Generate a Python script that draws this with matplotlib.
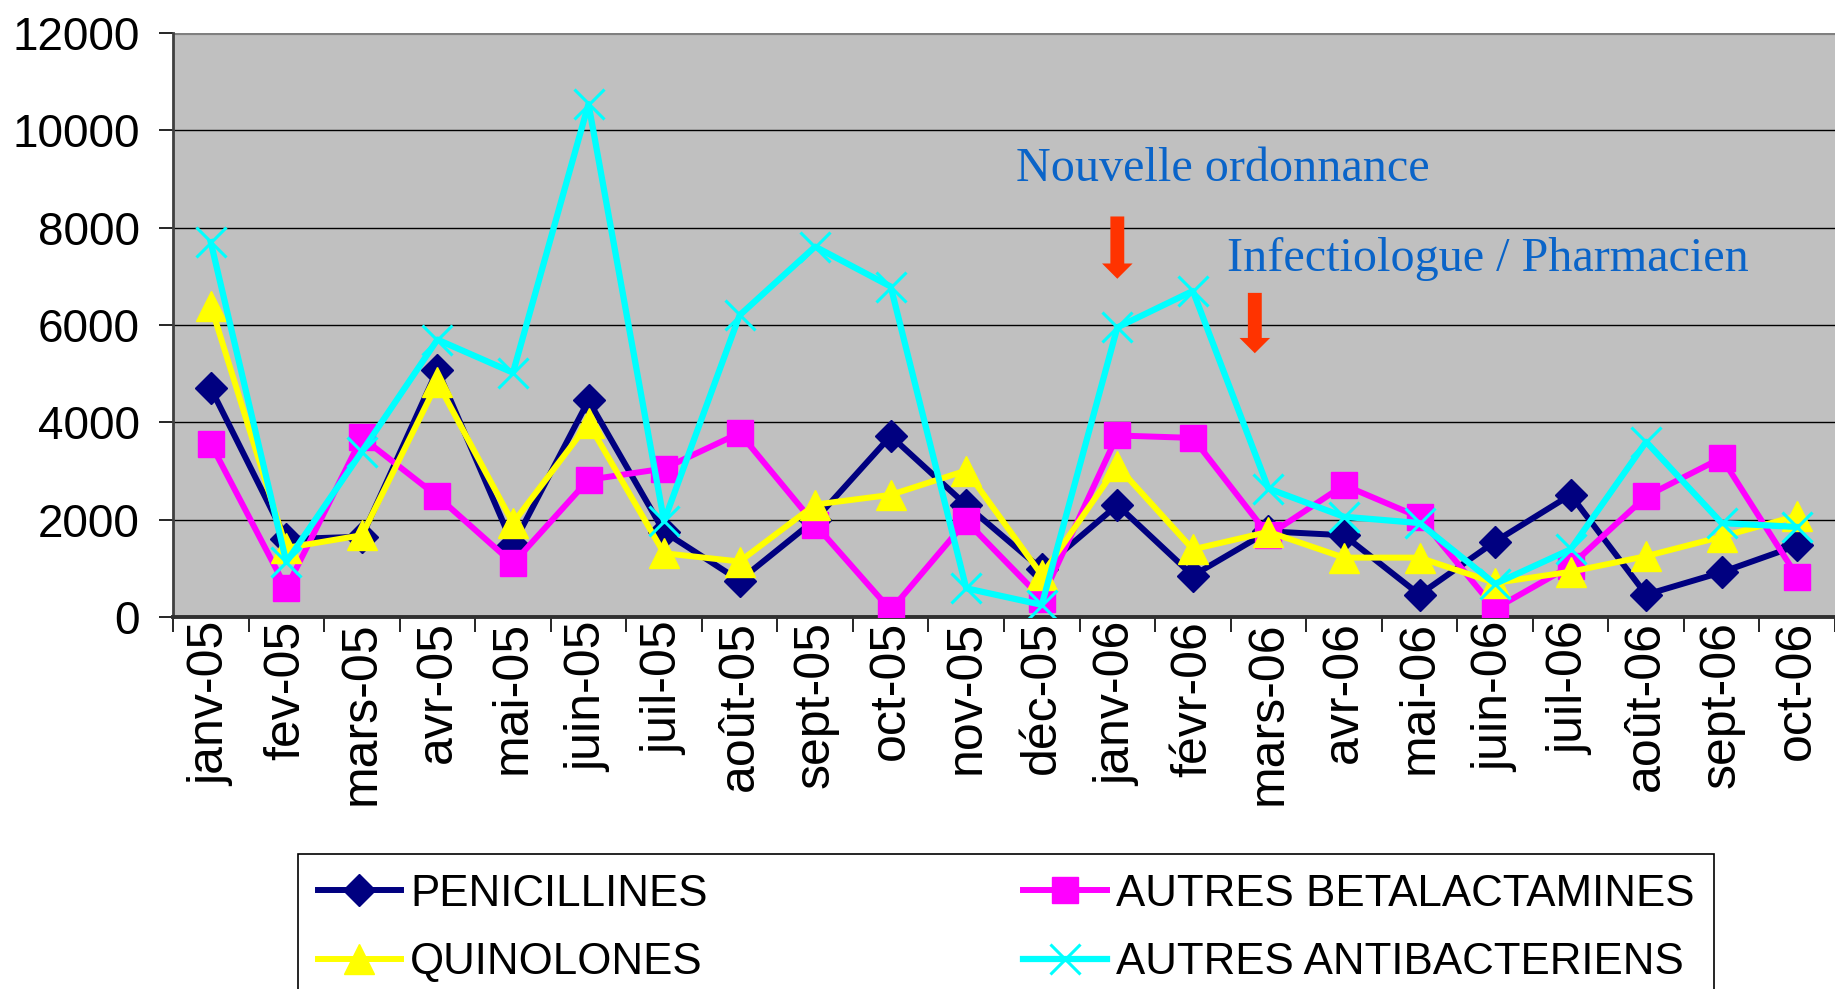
import matplotlib
matplotlib.use("Agg")
import matplotlib.pyplot as plt
import numpy as np

months = ["janv-05", "fev-05", "mars-05", "avr-05", "mai-05", "juin-05", "juil-05",
          "août-05", "sept-05", "oct-05", "nov-05", "déc-05", "janv-06", "févr-06",
          "mars-06", "avr-06", "mai-06", "juin-06", "juil-06", "août-06", "sept-06", "oct-06"]

penicillines = [4700, 1600, 1650, 5080, 1480, 4450, 1750, 750, 2000, 3720, 2300, 980,
                2300, 850, 1760, 1680, 460, 1550, 2510, 460, 920, 1470]
autres_betalactamines = [3560, 590, 3690, 2480, 1100, 2820, 3050, 3780, 1900, 140, 1970, 380,
                         3730, 3680, 1680, 2710, 2050, 170, 1050, 2480, 3270, 830]
quinolones = [6400, 1420, 1680, 4820, 1930, 3980, 1310, 1140, 2310, 2510, 3010, 860,
              3100, 1390, 1750, 1220, 1220, 700, 930, 1250, 1650, 2080]
autres_antibacteriens = [7700, 1130, 3400, 5700, 5020, 10540, 1970, 6200, 7610, 6790, 590, 250,
                         5950, 6700, 2640, 2060, 1930, 680, 1390, 3600, 1930, 1850]

yticks = [0, 2000, 4000, 6000, 8000, 10000, 12000]

fig = plt.figure(figsize=(18.35, 9.89), dpi=100)
ax = fig.add_axes([173 / 1835, 1 - 617 / 989, 1 - 173 / 1835, (617 - 33) / 989])
ax.set_facecolor("#C0C0C0")

x = np.arange(len(months))
ax.plot(x, penicillines, color="#000080", lw=4.3, marker="D", ms=16,
        label="PENICILLINES", zorder=3)
ax.plot(x, autres_betalactamines, color="#FF00FF", lw=4.3, marker="s", ms=19,
        label="AUTRES BETALACTAMINES", zorder=3)
ax.plot(x, quinolones, color="#FFFF00", lw=4.3, marker="^", ms=21,
        label="QUINOLONES", zorder=4)
ax.plot(x, autres_antibacteriens, color="#00FFFF", lw=4.5, marker="x", ms=21, mew=2.2,
        label="AUTRES ANTIBACTERIENS", zorder=5)

ax.set_xlim(-0.5, len(months) - 0.5)
ax.set_ylim(0, 12000)
ax.set_yticks(yticks)
ax.set_yticklabels([str(v) for v in yticks], fontsize=33, family="Liberation Sans")
ax.set_xticks(x)
ax.set_xticklabels(months, rotation=90, fontsize=36, family="Liberation Sans")
ax.set_xticks(np.arange(-0.5, len(months)), minor=True)
ax.tick_params(axis="x", which="major", length=0, pad=3)
ax.tick_params(axis="x", which="minor", length=11, width=1.2, direction="out")
ax.tick_params(axis="y", length=10, width=1.2, pad=14, direction="out")
ax.yaxis.grid(True, color="black", lw=1.0)
ax.set_axisbelow(True)

for side in ["top", "right"]:
    ax.spines[side].set_visible(False)
ax.axhline(12000, color="#808080", lw=3, zorder=1)
ax.spines["left"].set_color("#404040")
ax.spines["left"].set_linewidth(2)
ax.spines["bottom"].set_color("#303030")
ax.spines["bottom"].set_linewidth(2.8)

txt_color = "#0A64C8"
ax.text(10.66, 9200, "Nouvelle ordonnance", color=txt_color, fontsize=34.7,
        family="Liberation Serif", ha="left", va="center")
ax.text(13.45, 7350, "Infectiologue / Pharmacien", color=txt_color, fontsize=34.7,
        family="Liberation Serif", ha="left", va="center")

arrow_style = "simple,head_length=11,head_width=22,tail_width=10"
ax.annotate("", xy=(12.0, 6950), xytext=(12.0, 8230),
            arrowprops=dict(arrowstyle=arrow_style, color="#FF3300", lw=0,
                            shrinkA=0, shrinkB=0, mutation_scale=1))
ax.annotate("", xy=(13.82, 5420), xytext=(13.82, 6660),
            arrowprops=dict(arrowstyle=arrow_style, color="#FF3300", lw=0,
                            shrinkA=0, shrinkB=0, mutation_scale=1))

h, l = ax.get_legend_handles_labels()
order = [0, 2, 1, 3]
leg = fig.legend([h[i] for i in order], [l[i] for i in order], ncol=2,
                 loc="upper left", bbox_to_anchor=(298 / 1835, 1 - 854 / 989),
                 prop={"family": "Liberation Sans", "size": 31.6},
                 frameon=True, fancybox=False, edgecolor="black", framealpha=1,
                 handlelength=1.9, handletextpad=0.2, columnspacing=7.2,
                 labelspacing=0.62, borderpad=0.45, borderaxespad=0)
leg.get_frame().set_linewidth(1.2)

fig.savefig("out.png", dpi=100)
